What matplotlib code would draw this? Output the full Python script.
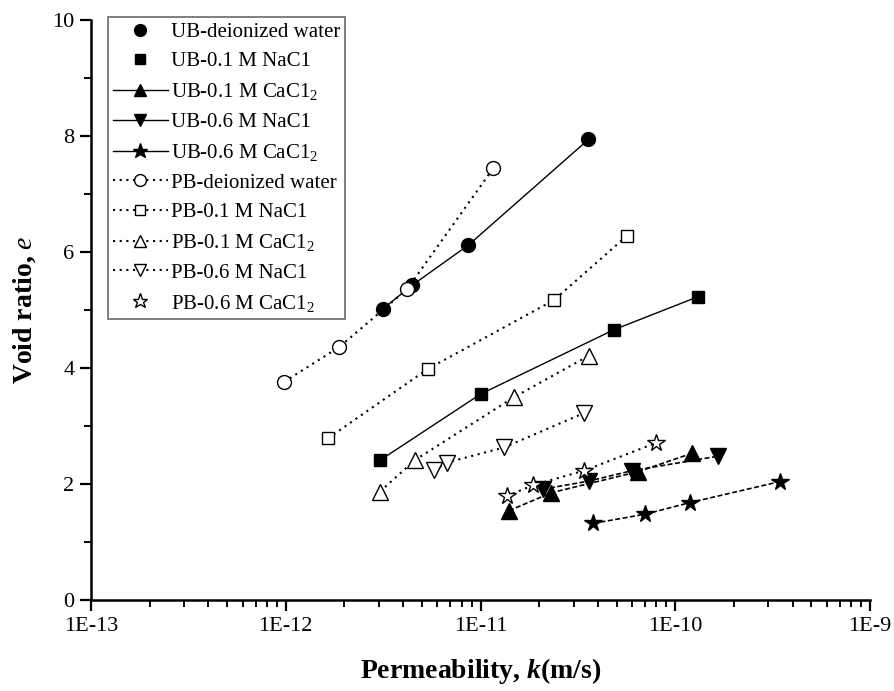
import matplotlib
matplotlib.use("Agg")
import matplotlib.pyplot as plt
from matplotlib.lines import Line2D
from matplotlib.ticker import FixedLocator, FuncFormatter, MultipleLocator, LogLocator, NullFormatter
import numpy as np

plt.rcParams["font.family"] = ["Liberation Serif", "DejaVu Serif"]
plt.rcParams["mathtext.fontset"] = "custom"
plt.rcParams["mathtext.rm"] = "Liberation Serif"
plt.rcParams["mathtext.it"] = "Liberation Serif:italic"
plt.rcParams["mathtext.bf"] = "Liberation Serif:bold"
plt.rcParams["mathtext.bfit"] = "Liberation Serif:bold:italic"

# ---- data (permeability k in m/s, void ratio e) ----
ub_water_k = [3.15e-12, 4.47e-12, 8.67e-12, 3.58e-11]
ub_water_e = [5.02, 5.43, 6.12, 7.94]
ub_nacl01_k = [3.05e-12, 1.0e-11, 4.84e-11, 1.31e-10]
ub_nacl01_e = [2.41, 3.55, 4.66, 5.23]
ub_cacl01_k = [1.40e-11, 2.31e-11, 6.4e-11, 1.22e-10]
ub_cacl01_e = [1.54, 1.85, 2.21, 2.53]
ub_nacl06_k = [2.08e-11, 3.59e-11, 6.0e-11, 1.66e-10]
ub_nacl06_e = [1.91, 2.05, 2.23, 2.48]
ub_cacl06_k = [3.78e-11, 7.02e-11, 1.19e-10, 3.43e-10]
ub_cacl06_e = [1.32, 1.48, 1.68, 2.04]

pb_water_k = [9.8e-13, 1.88e-12, 4.2e-12, 1.16e-11]
pb_water_e = [3.76, 4.36, 5.36, 7.44]
pb_nacl01_k = [1.65e-12, 5.34e-12, 2.38e-11, 5.65e-11]
pb_nacl01_e = [2.79, 3.98, 5.17, 6.28]
pb_cacl01_k = [3.05e-12, 4.59e-12, 1.49e-11, 3.59e-11]
pb_cacl01_e = [1.87, 2.41, 3.50, 4.21]
pb_nacl06_k = [5.77e-12, 6.73e-12, 1.32e-11, 3.38e-11]
pb_nacl06_e = [2.24, 2.37, 2.63, 3.22]
pb_cacl06_k = [1.36e-11, 1.86e-11, 3.40e-11, 7.98e-11]
pb_cacl06_e = [1.79, 1.98, 2.23, 2.71]

labels = ["UB-deionized water", "UB-0.1 M NaC1", "UB-0.1 M CaC1$_2$",
          "UB-0.6 M NaC1", "UB-0.6 M CaC1$_2$",
          "PB-deionized water", "PB-0.1 M NaC1", "PB-0.1 M CaC1$_2$",
          "PB-0.6 M NaC1", "PB-0.6 M CaC1$_2$"]

fig = plt.figure(figsize=(8.94, 6.91), dpi=100)
ax = fig.add_axes([0.1018, 0.1317, 0.8715, 0.8394])

solid = dict(color="black", linewidth=1.0, linestyle="-")
dash = dict(color="black", linewidth=1.2, linestyle=(0, (3, 1.5)))
dot = dict(color="black", linewidth=1.5, linestyle=(0, (1, 2.2)))
filled = dict(markerfacecolor="black", markeredgecolor="black")
hollow = dict(markerfacecolor="white", markeredgecolor="black", markeredgewidth=1.0)

series = [
    (ub_water_k, ub_water_e, "o", 10, solid, filled),
    (ub_nacl01_k, ub_nacl01_e, "s", 9, solid, filled),
    (ub_cacl01_k, ub_cacl01_e, "^", 11, dash, filled),
    (ub_nacl06_k, ub_nacl06_e, "v", 11, dash, filled),
    (ub_cacl06_k, ub_cacl06_e, "*", 13, dash, filled),
    (pb_water_k, pb_water_e, "o", 10, dot, hollow),
    (pb_nacl01_k, pb_nacl01_e, "s", 9, dot, hollow),
    (pb_cacl01_k, pb_cacl01_e, "^", 11, dot, hollow),
    (pb_nacl06_k, pb_nacl06_e, "v", 11, dot, hollow),
    (pb_cacl06_k, pb_cacl06_e, "*", 13, dot, hollow),
]
for k, e, m, ms, ls, mk in series:
    ax.plot(k, e, marker=m, markersize=ms, zorder=3, **ls, **mk)

# legend handles drawn like the original (some entries without line)
leg_line = [False, False, True, True, True, True, True, True, True, False]
handles = []
for (k, e, m, ms, ls, mk), show in zip(series, leg_line):
    st = dict(ls)
    if ls is dash:
        st = dict(solid)
    if not show:
        st["linestyle"] = "none"
    handles.append(Line2D([], [], marker=m, markersize=ms * 0.85, **st, **mk))
leg = ax.legend(handles, labels, loc="upper left", bbox_to_anchor=(0.022, 1.005),
                fontsize=15, frameon=True, fancybox=False, edgecolor="#444444",
                handlelength=2.6, handletextpad=0.15, labelspacing=0.48,
                borderpad=0.25, borderaxespad=0.0)
leg.get_frame().set_linewidth(1.2)

ax.set_xscale("log")
ax.set_xlim(1e-13, 1e-9)
ax.set_ylim(0, 10)
ax.xaxis.set_major_locator(FixedLocator([1e-13, 1e-12, 1e-11, 1e-10, 1e-9]))
ax.xaxis.set_major_formatter(FuncFormatter(lambda v, p: "1E%d" % round(np.log10(v))))
ax.xaxis.set_minor_locator(LogLocator(base=10, subs=np.arange(2, 10)))
ax.xaxis.set_minor_formatter(NullFormatter())
ax.yaxis.set_major_locator(MultipleLocator(2))
ax.yaxis.set_minor_locator(MultipleLocator(1))

for s in ["top", "right"]:
    ax.spines[s].set_visible(False)
for s in ["left", "bottom"]:
    ax.spines[s].set_linewidth(1.8)
ax.tick_params(which="major", direction="out", length=8, width=1.6, labelsize=16, pad=4)
ax.tick_params(which="minor", direction="out", length=5, width=1.4)

ax.set_xlabel("Permeability, $\\mathbfit{k}$(m/s)", fontsize=20, fontweight="bold", labelpad=15)
ax.set_ylabel("Void ratio, $\\mathit{e}$", fontsize=20, fontweight="bold", labelpad=10)

fig.savefig("out.png", dpi=100)
